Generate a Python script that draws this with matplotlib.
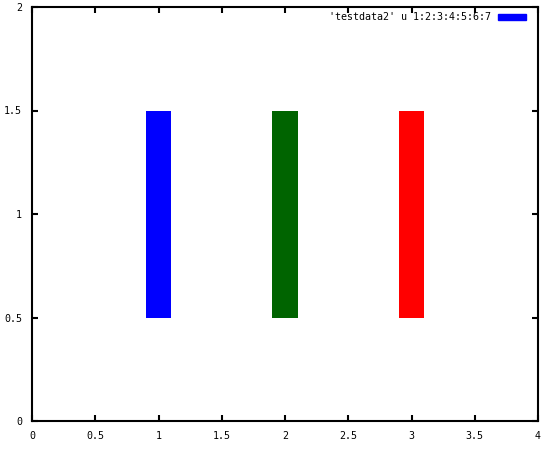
import matplotlib
matplotlib.use("Agg")
import matplotlib.pyplot as plt
from matplotlib.patches import Rectangle

x_positions = [1, 2, 3]
y_low = [0.5, 0.5, 0.5]
y_high = [1.5, 1.5, 1.5]
bar_colors = ["#0000ff", "#006400", "#ff0000"]
legend_label = "'testdata2' u 1:2:3:4:5:6:7"
xticks = [0, 0.5, 1, 1.5, 2, 2.5, 3, 3.5, 4]
xticklabels = ["0", "0.5", "1", "1.5", "2", "2.5", "3", "3.5", "4"]
yticks = [0, 0.5, 1, 1.5, 2]
yticklabels = ["0", "0.5", "1", "1.5", "2"]

plt.rcParams["font.family"] = ["DejaVu Sans Mono"]
fig = plt.figure(figsize=(5.46, 4.49), dpi=100)
ax = fig.add_axes([32/546, 28/449, 506/546, 414/449])

width = 0.2
for x, lo, hi, c in zip(x_positions, y_low, y_high, bar_colors):
    ax.bar(x, hi - lo, bottom=lo, width=width, color=c, linewidth=0)

ax.set_xlim(0, 4)
ax.set_ylim(0, 2)
ax.set_xticks(xticks)
ax.set_xticklabels(xticklabels, fontsize=7.2)
ax.set_yticks(yticks)
ax.set_yticklabels(yticklabels, fontsize=7.2)
ax.tick_params(direction="in", length=4, width=1.5, top=True, right=True, pad=7)
for s in ax.spines.values():
    s.set_linewidth(1.5)

# legend
ax.text(491/546, 1 - 17/449, legend_label, transform=fig.transFigure,
        ha="right", va="center", fontsize=7.2)
fig.patches.append(Rectangle((498/546, 1 - 20/449), 28/546, 6/449,
                             transform=fig.transFigure, color=bar_colors[0]))

fig.savefig("out.png", dpi=100)
